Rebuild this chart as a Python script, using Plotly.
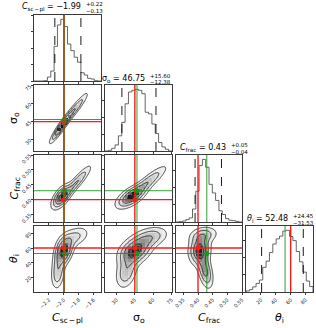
import numpy as np
import plotly.graph_objects as go

W, H = 316, 328

# ---------------- data ----------------
names = ["<i>C</i><sub>sc\u200a−\u200apl</sub>", "σ<sub>o</sub>", "<i>C</i><sub>frac</sub>", "<i>θ</i><sub>i</sub>"]
ranges = [[-2.4, -1.5], [20.5, 75.5], [0.325, 0.55], [0.0, 90.0]]
tick_vals = [[-2.2, -2.0, -1.8, -1.6], [30, 45, 60, 75], [0.35, 0.40, 0.45, 0.50, 0.55], [20, 40, 60, 80]]
tick_text = [["−2.2", "−2.0", "−1.8", "−1.6"], ["30", "45", "60", "75"],
             ["0.35", "0.40", "0.45", "0.50", "0.55"], ["20", "40", "60", "80"]]
truth = [-2.0, 45.0, 0.40, 60.0]
median = [-1.99, 46.75, 0.43, 52.48]
median_text = ["−1.99", "46.75", "0.43", "52.48"]
plus_text = ["+0.22", "+15.60", "+0.05", "+24.45"]
minus_text = ["−0.13", "−12.38", "−0.04", "−31.53"]
q16 = [-2.12, 34.37, 0.39, 20.95]
q84 = [-1.77, 62.35, 0.48, 76.93]

# 1D histogram counts (20 bins across each range)
hist_csc = [0, 0, 0, 1, 12, 30, 105, 170, 187, 165, 112, 92, 72, 57, 25, 18, 8, 6, 1, 0]
hist_sigma = [0, 2, 8, 18, 45, 85, 140, 175, 180, 183, 180, 170, 115, 110, 80, 52, 25, 12, 5, 0]
hist_cfrac = [0, 1, 3, 7, 12, 38, 90, 165, 183, 160, 110, 85, 63, 33, 22, 10, 5, 4, 2, 0]
hist_theta = [3, 7, 15, 25, 35, 72, 90, 115, 140, 155, 163, 178, 180, 162, 150, 118, 88, 58, 32, 16]
hists = [hist_csc, hist_sigma, hist_cfrac, hist_theta]

# 2D posterior shapes: blobs (mean_x, mean_y, sd_x, sd_y, corr, weight)
blobs = {
    (1, 0): [(-2.03, 41.0, 0.085, 7.5, 0.93, 0.6), (-1.84, 56.0, 0.10, 8.0, 0.93, 0.4)],
    (2, 0): [(-2.03, 0.41, 0.075, 0.023, 0.6, 0.6), (-1.82, 0.46, 0.11, 0.032, 0.9, 0.4)],
    (3, 0): [(-2.08, 27.0, 0.055, 14.0, 0.2, 0.25), (-2.0, 56.0, 0.07, 11.0, 0.3, 0.5),
             (-1.85, 75.0, 0.12, 9.0, 0.4, 0.25)],
    (2, 1): [(42.0, 0.41, 7.0, 0.022, 0.6, 0.6), (56.0, 0.46, 9.0, 0.032, 0.88, 0.4)],
    (3, 1): [(38.0, 27.0, 5.5, 14.0, 0.3, 0.25), (45.0, 56.0, 8.0, 11.0, 0.3, 0.5),
             (58.0, 75.0, 9.0, 9.0, 0.3, 0.25)],
    (3, 2): [(0.405, 57.0, 0.022, 12.0, 0.1, 0.5), (0.425, 28.0, 0.016, 14.0, -0.4, 0.3),
             (0.42, 78.0, 0.03, 7.0, 0.2, 0.2)],
}

# ---------------- layout geometry (pixels) ----------------
col_px = [(34, 101), (105, 172), (176, 242), (246, 313)]
row_px = [(15, 81), (85, 151), (155, 222), (226, 292)]
title_end_px = [83, 147, 228, 290]
title_y_px = [7.5, 79, 148, 219]

RED = "#ff1a1a"
GREEN = "#1a961a"
FONT = "DejaVu Sans"
SHADE = [[0, "#ffffff"], [0.3, "#e8e8e8"], [0.6, "#b8b8b8"], [0.85, "#707070"], [1, "#1e1e1e"]]


def gauss2(X, Y, mx, my, sx, sy, rho, w):
    dx = (X - mx) / sx
    dy = (Y - my) / sy
    q = (dx * dx - 2 * rho * dx * dy + dy * dy) / (1 - rho * rho)
    return w * np.exp(-0.5 * q) / (2 * np.pi * sx * sy * np.sqrt(1 - rho * rho))


fig = go.Figure()
layout = {}
shapes = []
annotations = []
k = 0
levels = 1 - np.exp(-0.5 * np.array([0.5, 1.0, 1.5, 2.0]) ** 2)

for i in range(4):
    for j in range(i + 1):
        k += 1
        xa = "x" if k == 1 else f"x{k}"
        ya = "y" if k == 1 else f"y{k}"
        xkey = "xaxis" if k == 1 else f"xaxis{k}"
        ykey = "yaxis" if k == 1 else f"yaxis{k}"
        x0, x1 = col_px[j]
        y0, y1 = row_px[i]
        bottom = i == 3
        left = j == 0 and i > 0
        axis_common = dict(showline=True, mirror=True, linecolor="#3a3a3a", linewidth=0.8,
                           showgrid=False, zeroline=False, ticks="outside", ticklen=2,
                           tickwidth=0.6, tickcolor="#3a3a3a", automargin=False,
                           tickfont=dict(family=FONT, size=5, color="#222"))
        layout[xkey] = dict(axis_common, domain=[x0 / W, x1 / W], anchor=ya,
                            range=ranges[j], tickvals=tick_vals[j], ticktext=tick_text[j],
                            showticklabels=bottom, tickangle=-45)
        if i == j:
            counts = np.array(hists[j], dtype=float)
            lo, hi = ranges[j]
            edges = np.linspace(lo, hi, len(counts) + 1)
            xs = np.concatenate([[edges[0]], edges[:-1], [edges[-1], edges[-1]]])
            ys = np.concatenate([[0], counts, [counts[-1], 0]])
            fig.add_trace(go.Scatter(x=xs, y=ys, mode="lines", line=dict(color="#555", width=0.9, shape="hv"),
                                     xaxis=xa, yaxis=ya, hoverinfo="skip", showlegend=False))
            layout[ykey] = dict(axis_common, domain=[1 - y1 / H, 1 - y0 / H], anchor=xa,
                                range=[0, counts.max() * 1.07], showticklabels=False, nticks=6)
            for q in (q16[j], q84[j]):
                shapes.append(dict(type="line", xref=xa, yref=f"{ya} domain", x0=q, x1=q, y0=0, y1=1,
                                   line=dict(color="black", width=0.9, dash="dash"), layer="above"))
            shapes.append(dict(type="line", xref=xa, yref=f"{ya} domain", x0=median[j], x1=median[j],
                               y0=0, y1=1, line=dict(color=GREEN, width=0.9), layer="above"))
            shapes.append(dict(type="line", xref=xa, yref=f"{ya} domain", x0=truth[j], x1=truth[j],
                               y0=0, y1=1, line=dict(color=RED, width=1.4), layer="above"))
            # title
            ex = title_end_px[j]
            ty = title_y_px[j]
            annotations.append(dict(xref="paper", yref="paper", x=ex / W, y=1 - ty / H, xanchor="right",
                                    yanchor="middle", showarrow=False,
                                    text=f"{names[j]} = {median_text[j]}",
                                    font=dict(family=FONT, size=8, color="black")))
            annotations.append(dict(xref="paper", yref="paper", x=(ex + 0.5) / W, y=1 - (ty - 3) / H,
                                    xanchor="left", yanchor="middle", showarrow=False, text=plus_text[j],
                                    font=dict(family=FONT, size=5.5, color="black")))
            annotations.append(dict(xref="paper", yref="paper", x=(ex + 0.5) / W, y=1 - (ty + 3.5) / H,
                                    xanchor="left", yanchor="middle", showarrow=False, text=minus_text[j],
                                    font=dict(family=FONT, size=5.5, color="black")))
        else:
            layout[ykey] = dict(axis_common, domain=[1 - y1 / H, 1 - y0 / H], anchor=xa,
                                range=ranges[i], tickvals=tick_vals[i], ticktext=tick_text[i],
                                showticklabels=left, tickangle=-45)
            xlo, xhi = ranges[j]
            ylo, yhi = ranges[i]
            # fine grid for contours
            gx = np.linspace(xlo, xhi, 140)
            gy = np.linspace(ylo, yhi, 140)
            GX, GY = np.meshgrid(gx, gy)
            Z = sum(gauss2(GX, GY, *b) for b in blobs[(i, j)])
            zs = np.sort(Z.ravel())[::-1]
            cs = np.cumsum(zs)
            cs /= cs[-1]
            V = [zs[min(np.searchsorted(cs, L), len(zs) - 1)] for L in levels]
            # coarse density blocks
            nb = 20
            cx = xlo + (np.arange(nb) + 0.5) * (xhi - xlo) / nb
            cy = ylo + (np.arange(nb) + 0.5) * (yhi - ylo) / nb
            CX, CY = np.meshgrid(cx, cy)
            Zc = sum(gauss2(CX, CY, *b) for b in blobs[(i, j)])
            Zc = Zc / Zc.max()
            fig.add_trace(go.Heatmap(x=cx, y=cy, z=Zc, colorscale=SHADE,
                                     zmin=0, zmax=1.0, showscale=False, xaxis=xa, yaxis=ya,
                                     hoverinfo="skip"))
            # white mask outside the outermost contour (fine resolution)
            M = np.where(Z < V[-1], 1.0, np.nan)
            fig.add_trace(go.Heatmap(x=gx, y=gy, z=M, colorscale=[[0, "white"], [1, "white"]],
                                     zmin=0, zmax=1, showscale=False, xaxis=xa, yaxis=ya,
                                     hoverinfo="skip"))
            for v in V:
                fig.add_trace(go.Contour(x=gx, y=gy, z=Z, autocontour=False,
                                         contours=dict(start=v, end=v, size=1, coloring="none"),
                                         line=dict(color="#111", width=0.8), showscale=False,
                                         xaxis=xa, yaxis=ya, hoverinfo="skip", showlegend=False))
            for val, col, lw in ((median[j], GREEN, 0.9), (truth[j], RED, 1.4)):
                shapes.append(dict(type="line", xref=xa, yref=f"{ya} domain", x0=val, x1=val, y0=0, y1=1,
                                   line=dict(color=col, width=lw), layer="above"))
            for val, col, lw in ((median[i], GREEN, 0.9), (truth[i], RED, 1.4)):
                shapes.append(dict(type="line", xref=f"{xa} domain", yref=ya, x0=0, x1=1, y0=val, y1=val,
                                   line=dict(color=col, width=lw), layer="above"))
            fig.add_trace(go.Scatter(x=[truth[j]], y=[truth[i]], mode="markers",
                                     marker=dict(color=RED, size=5), xaxis=xa, yaxis=ya,
                                     hoverinfo="skip", showlegend=False))
            fig.add_trace(go.Scatter(x=[median[j]], y=[median[i]], mode="markers",
                                     marker=dict(color=GREEN, size=5), xaxis=xa, yaxis=ya,
                                     hoverinfo="skip", showlegend=False))

# axis labels
xlab_y = 318
for j in range(4):
    cxp = (col_px[j][0] + col_px[j][1]) / 2
    annotations.append(dict(xref="paper", yref="paper", x=cxp / W, y=1 - xlab_y / H, xanchor="center",
                            yanchor="middle", showarrow=False, text=names[j],
                            font=dict(family=FONT, size=11, color="black")))
for i in range(1, 4):
    cyp = (row_px[i][0] + row_px[i][1]) / 2
    annotations.append(dict(xref="paper", yref="paper", x=14 / W, y=1 - cyp / H, xanchor="center",
                            yanchor="middle", showarrow=False, text=names[i], textangle=-90,
                            font=dict(family=FONT, size=11, color="black")))

fig.update_layout(template="none", width=W, height=H, margin=dict(l=0, r=0, t=0, b=0),
                  paper_bgcolor="white", plot_bgcolor="white", showlegend=False,
                  shapes=shapes, annotations=annotations, **layout)
fig.write_html("out.html", config={"displayModeBar": False},
               post_script="document.body.style.margin='0px';")
